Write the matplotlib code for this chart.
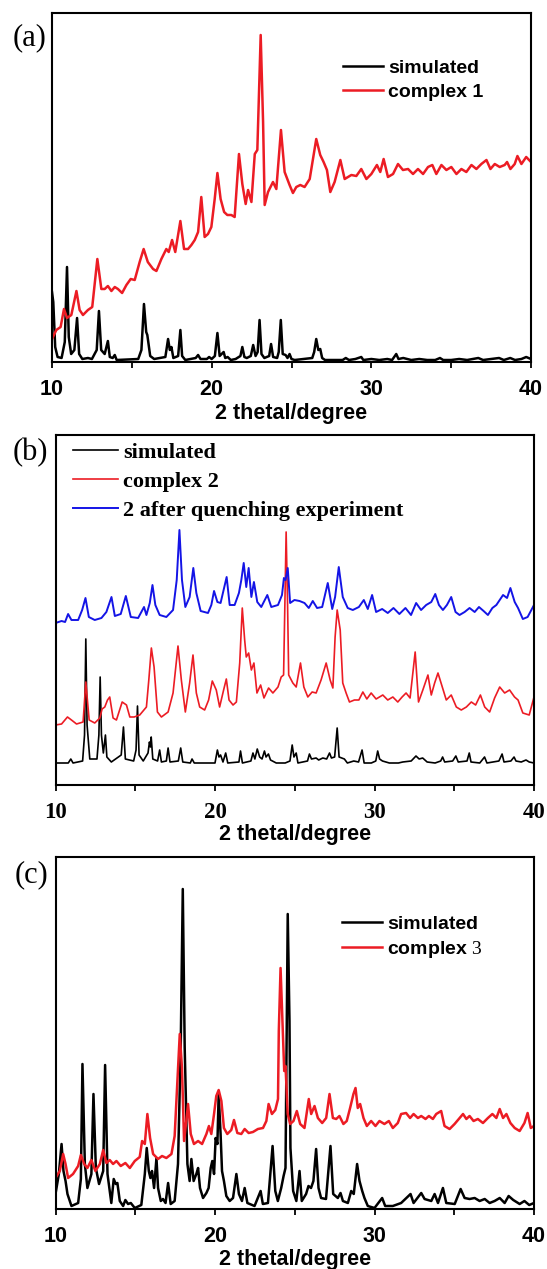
import numpy as np
import matplotlib
matplotlib.use('Agg')
import matplotlib.pyplot as plt

plt.rcParams['mathtext.fontset'] = 'custom'
plt.rcParams['mathtext.rm'] = 'Liberation Serif'

# ---- panel (a): 2 theta (deg), intensity (arb. units) ----
a_sim = [(10.0, 70), (10.08, 60), (10.2, 15), (10.35, 5), (10.6, 4), (10.8, 20), (10.94, 95), (11.05, 25),
         (11.2, 8), (11.4, 12), (11.57, 44), (11.7, 8), (11.9, 3), (12.25, 4), (12.5, 3), (12.8, 12),
         (12.94, 51), (13.08, 12), (13.3, 8), (13.5, 21), (13.62, 5), (13.8, 4), (13.93, 7), (14.05, 2),
         (15.4, 3), (15.6, 12), (15.76, 58), (15.9, 30), (15.97, 27), (16.15, 6), (16.4, 3), (17.1, 5),
         (17.27, 23), (17.38, 12), (17.48, 15), (17.6, 4), (17.9, 6), (18.04, 32), (18.15, 6), (18.35, 2),
         (19.0, 4), (19.15, 7), (19.3, 3), (19.7, 3), (19.84, 5), (20.0, 3), (20.2, 6), (20.36, 29),
         (20.5, 6), (20.75, 10), (20.85, 4), (21.0, 5), (21.2, 2), (21.5, 3), (21.8, 6), (21.92, 15),
         (22.05, 5), (22.2, 4), (22.45, 6), (22.6, 17), (22.75, 6), (22.88, 10), (23.0, 42), (23.12, 8),
         (23.3, 4), (23.6, 6), (23.72, 18), (23.85, 5), (24.1, 4), (24.2, 10), (24.33, 42), (24.45, 8),
         (24.63, 7), (24.75, 4), (24.88, 8), (25.0, 3), (25.2, 2), (26.3, 4), (26.42, 10), (26.55, 23),
         (26.68, 12), (26.8, 13), (26.92, 4), (27.1, 2), (28.2, 2), (28.4, 4), (28.6, 2), (29.0, 3),
         (29.37, 5), (29.5, 2), (30.0, 3), (30.5, 2), (31.0, 3), (31.3, 2), (31.56, 8), (31.7, 3),
         (32.0, 4), (32.5, 2), (33.0, 3), (33.5, 2), (34.0, 2), (34.3, 4), (34.5, 2), (35.0, 2),
         (35.5, 3), (36.0, 2), (36.7, 4), (37.0, 2), (37.5, 3), (38.0, 4), (38.3, 2), (38.7, 4),
         (39.0, 2), (39.4, 3), (39.7, 5), (40.0, 3)]

a_exp = [(10.0, 23), (10.27, 32), (10.54, 35), (10.75, 53), (10.94, 44), (11.21, 47), (11.53, 71), (11.73, 52),
         (11.94, 47), (12.25, 52), (12.52, 55), (12.84, 103), (13.09, 73), (13.3, 73), (13.5, 76), (13.72, 71),
         (13.93, 75), (14.13, 73), (14.39, 69), (14.66, 77), (14.93, 83), (15.18, 82), (15.49, 100), (15.74, 113),
         (16.0, 100), (16.33, 93), (16.54, 91), (16.85, 103), (17.16, 113), (17.31, 110), (17.52, 122),
         (17.72, 110), (18.04, 141), (18.27, 113), (18.52, 113), (18.73, 117), (18.94, 122), (19.15, 130),
         (19.35, 165), (19.56, 125), (19.77, 128), (19.98, 135), (20.19, 163), (20.36, 189), (20.56, 163),
         (20.78, 150), (20.98, 147), (21.23, 147), (21.44, 145), (21.71, 208), (21.92, 178), (22.13, 158),
         (22.28, 172), (22.49, 160), (22.7, 208), (22.86, 212), (23.07, 327), (23.22, 240), (23.32, 157),
         (23.53, 170), (23.84, 180), (24.05, 173), (24.34, 232), (24.57, 190), (24.88, 177), (25.09, 169),
         (25.3, 175), (25.55, 177), (25.82, 175), (26.14, 183), (26.55, 223), (26.8, 207), (27.01, 200),
         (27.22, 192), (27.43, 170), (27.7, 180), (28.06, 202), (28.33, 183), (28.75, 187), (29.06, 186),
         (29.37, 193), (29.69, 183), (30.0, 188), (30.35, 197), (30.56, 190), (30.77, 203), (31.04, 185),
         (31.36, 188), (31.67, 198), (31.98, 192), (32.3, 193), (32.61, 188), (32.92, 193), (33.24, 188),
         (33.55, 195), (33.82, 197), (34.07, 188), (34.39, 197), (34.7, 192), (35.01, 195), (35.33, 188),
         (35.64, 193), (35.95, 190), (36.27, 197), (36.58, 193), (36.89, 198), (37.21, 202), (37.46, 193),
         (37.73, 198), (38.04, 195), (38.35, 197), (38.5, 200), (38.71, 193), (38.98, 198), (39.15, 206),
         (39.4, 198), (39.7, 205), (40.0, 200)]

# ---- panel (b) ----
b_sim = [(10.0, 22), (10.8, 22), (10.96, 26), (11.1, 22), (11.7, 24), (11.82, 50), (11.9, 146), (11.98, 60),
         (12.15, 26), (12.6, 26), (12.72, 50), (12.8, 108), (12.88, 50), (13.0, 32), (13.13, 50), (13.22, 28),
         (13.5, 23), (14.12, 30), (14.26, 58), (14.38, 26), (14.9, 24), (15.05, 35), (15.14, 79), (15.24, 30),
         (15.5, 24), (15.8, 32), (15.89, 43), (15.95, 38), (16.0, 48), (16.1, 26), (16.4, 24), (16.53, 35),
         (16.64, 23), (16.95, 24), (17.06, 37), (17.18, 23), (17.7, 24), (17.85, 37), (17.98, 23), (18.45, 22),
         (18.56, 26), (18.7, 22), (20.0, 22), (20.15, 35), (20.25, 28), (20.35, 30), (20.5, 23), (20.67, 32),
         (20.8, 22), (21.5, 23), (21.6, 34), (21.72, 22), (22.25, 24), (22.38, 32), (22.5, 26), (22.65, 36),
         (22.8, 28), (22.95, 26), (23.1, 34), (23.2, 28), (23.35, 31), (23.48, 25), (23.84, 22), (24.4, 22),
         (24.7, 24), (24.84, 40), (24.95, 28), (25.09, 32), (25.2, 22), (25.8, 24), (25.92, 31), (26.05, 26),
         (26.34, 27), (26.5, 25), (26.76, 27), (27.0, 26), (27.18, 32), (27.3, 27), (27.5, 28), (27.66, 57),
         (27.78, 28), (28.11, 26), (28.3, 22), (28.7, 24), (29.0, 23), (29.22, 35), (29.35, 22), (29.8, 22),
         (30.08, 24), (30.2, 34), (30.32, 26), (30.5, 24), (30.93, 22), (31.5, 22), (31.77, 23), (32.3, 24),
         (32.6, 29), (32.8, 26), (33.02, 27), (33.3, 23), (33.8, 22), (34.15, 24), (34.27, 28), (34.4, 23),
         (34.9, 24), (35.1, 29), (35.25, 23), (35.8, 24), (35.94, 32), (36.05, 23), (36.6, 22), (36.9, 28),
         (37.05, 22), (37.8, 24), (38.0, 31), (38.12, 23), (38.55, 24), (38.75, 28), (38.87, 24), (39.2, 23),
         (39.5, 25), (39.7, 23), (40.0, 22)]

b_exp = [(10.0, 60), (10.38, 61), (10.75, 68), (11.0, 65), (11.32, 61), (11.73, 63), (11.9, 103), (12.11, 65),
         (12.46, 62), (12.78, 67), (12.92, 76), (13.09, 78), (13.26, 85), (13.4, 88), (13.61, 67), (13.82, 65),
         (14.18, 83), (14.45, 80), (14.66, 68), (14.93, 68), (15.28, 70), (15.7, 78), (15.85, 105), (16.01, 137),
         (16.18, 118), (16.39, 73), (16.64, 68), (17.06, 73), (17.37, 92), (17.68, 139), (17.89, 105),
         (18.14, 73), (18.41, 102), (18.62, 130), (18.83, 92), (19.04, 78), (19.35, 75), (19.6, 85),
         (19.83, 104), (20.08, 95), (20.29, 78), (20.54, 95), (20.71, 106), (20.88, 85), (21.13, 80),
         (21.34, 83), (21.55, 122), (21.71, 177), (21.86, 145), (21.96, 128), (22.11, 132), (22.28, 115),
         (22.44, 122), (22.63, 92), (22.86, 100), (23.07, 87), (23.36, 97), (23.63, 92), (23.95, 98),
         (24.15, 108), (24.3, 110), (24.38, 180), (24.46, 253), (24.55, 180), (24.62, 110), (24.88, 102),
         (25.09, 98), (25.36, 122), (25.57, 98), (25.82, 88), (26.09, 93), (26.34, 92), (26.65, 105),
         (26.97, 122), (27.22, 105), (27.39, 97), (27.53, 148), (27.66, 175), (27.85, 155), (28.01, 102),
         (28.22, 92), (28.43, 83), (28.74, 85), (29.02, 85), (29.27, 93), (29.52, 86), (29.79, 92), (30.1, 86),
         (30.52, 90), (30.83, 85), (31.15, 88), (31.46, 83), (31.73, 88), (31.98, 92), (32.23, 87),
         (32.55, 133), (32.76, 83), (33.03, 95), (33.35, 110), (33.56, 90), (33.77, 102), (33.98, 112),
         (34.25, 98), (34.5, 85), (34.81, 90), (35.13, 78), (35.44, 75), (35.76, 78), (36.07, 83), (36.34, 80),
         (36.64, 90), (36.91, 78), (37.22, 73), (37.53, 87), (37.85, 98), (38.16, 92), (38.47, 95), (38.78, 88),
         (39.0, 85), (39.3, 72), (39.7, 70), (40.0, 88)]

b_quench = [(10.0, 162), (10.38, 164), (10.6, 163), (10.79, 171), (11.0, 165), (11.42, 165), (11.67, 175),
            (11.88, 187), (12.09, 168), (12.46, 165), (12.88, 167), (13.19, 173), (13.51, 188), (13.72, 169),
            (14.09, 171), (14.41, 189), (14.72, 168), (15.18, 167), (15.55, 178), (15.7, 170), (15.91, 182),
            (16.08, 200), (16.26, 180), (16.53, 170), (16.95, 168), (17.37, 175), (17.6, 205), (17.77, 255),
            (17.93, 205), (18.14, 178), (18.41, 188), (18.64, 217), (18.83, 192), (19.1, 174), (19.56, 172),
            (19.77, 180), (19.94, 194), (20.15, 183), (20.35, 182), (20.54, 195), (20.73, 208), (20.92, 180),
            (21.23, 180), (21.5, 192), (21.65, 205), (21.8, 222), (21.96, 198), (22.11, 217), (22.28, 188),
            (22.44, 203), (22.65, 183), (22.9, 178), (23.28, 190), (23.53, 178), (23.95, 180), (24.2, 190),
            (24.32, 207), (24.42, 205), (24.56, 217), (24.71, 182), (24.98, 185), (25.3, 184), (25.61, 182),
            (25.88, 177), (26.13, 184), (26.4, 177), (26.72, 178), (27.07, 202), (27.35, 176), (27.53, 188),
            (27.76, 218), (28.01, 188), (28.32, 177), (28.64, 175), (29.02, 178), (29.33, 185), (29.58, 176),
            (29.85, 190), (30.1, 173), (30.48, 176), (30.83, 172), (31.19, 177), (31.56, 171), (31.94, 177),
            (32.29, 170), (32.61, 182), (32.92, 175), (33.24, 180), (33.56, 183), (33.81, 191), (34.04, 180),
            (34.29, 175), (34.54, 180), (34.81, 188), (35.08, 173), (35.33, 170), (35.65, 173), (35.96, 177),
            (36.28, 173), (36.55, 178), (36.84, 174), (37.11, 170), (37.39, 177), (37.64, 180), (37.85, 185),
            (38.06, 190), (38.31, 187), (38.52, 197), (38.79, 183), (39.0, 177), (39.3, 166), (39.6, 168),
            (40.0, 180)]

# ---- panel (c) ----
c_sim = [(10.0, 15), (10.21, 35), (10.38, 65), (10.5, 38), (10.63, 28), (10.75, 15), (11.0, 3), (11.42, 6),
         (11.59, 30), (11.69, 145), (11.84, 45), (12.0, 21), (12.25, 35), (12.38, 115), (12.53, 41), (12.73, 25),
         (12.99, 38), (13.11, 144), (13.26, 35), (13.5, 6), (13.65, 30), (13.78, 25), (13.88, 26), (14.03, 8),
         (14.24, 3), (14.38, 9), (14.55, 5), (14.72, 6), (14.97, 1), (15.38, 4), (15.6, 35), (15.72, 61),
         (15.85, 38), (15.95, 31), (16.05, 38), (16.18, 21), (16.33, 51), (16.43, 21), (16.6, 8), (16.74, 10),
         (16.9, 6), (17.06, 26), (17.22, 5), (17.47, 8), (17.68, 45), (17.85, 161), (17.98, 320), (18.1, 161),
         (18.27, 45), (18.41, 28), (18.52, 50), (18.66, 28), (18.83, 35), (18.94, 41), (19.06, 21), (19.25, 11),
         (19.46, 16), (19.6, 21), (19.73, 41), (19.83, 48), (19.94, 35), (20.04, 71), (20.15, 65), (20.23, 115),
         (20.35, 75), (20.44, 38), (20.56, 28), (20.71, 13), (20.92, 8), (21.13, 11), (21.34, 35), (21.5, 15),
         (21.69, 8), (21.86, 21), (22.03, 6), (22.48, 3), (22.86, 18), (23.0, 5), (23.32, 6), (23.61, 63),
         (23.78, 18), (23.94, 8), (24.15, 21), (24.3, 33), (24.42, 41), (24.5, 188), (24.56, 295), (24.67, 188),
         (24.73, 61), (24.9, 18), (25.1, 8), (25.3, 38), (25.44, 8), (25.71, 15), (25.86, 23), (26.02, 21),
         (26.17, 28), (26.34, 60), (26.49, 21), (26.65, 11), (26.96, 10), (27.24, 63), (27.41, 15), (27.7, 11),
         (27.87, 16), (28.02, 8), (28.33, 6), (28.54, 18), (28.7, 15), (28.91, 45), (29.06, 28), (29.23, 18),
         (29.37, 11), (29.58, 3), (30.0, 1), (30.48, 11), (30.67, 3), (31.15, 3), (31.67, 6), (32.26, 15),
         (32.45, 6), (32.93, 16), (33.14, 10), (33.56, 8), (33.77, 15), (33.98, 6), (34.29, 21), (34.5, 6),
         (35.03, 5), (35.4, 20), (35.65, 11), (35.96, 10), (36.28, 11), (36.59, 8), (36.91, 10), (37.22, 6),
         (37.53, 8), (37.85, 11), (38.16, 6), (38.41, 13), (38.7, 9), (39.1, 5), (39.4, 8), (39.7, 4), (40.0, 6)]

c_exp = [(10.0, 31), (10.27, 38), (10.48, 55), (10.63, 45), (10.79, 31), (11.1, 35), (11.42, 43), (11.59, 54),
         (11.8, 45), (12.0, 41), (12.25, 49), (12.5, 38), (12.78, 45), (12.99, 59), (13.19, 46), (13.4, 49),
         (13.61, 45), (13.82, 48), (14.09, 43), (14.38, 46), (14.66, 41), (14.97, 48), (15.28, 52), (15.43, 68),
         (15.6, 65), (15.76, 95), (15.93, 71), (16.12, 55), (16.43, 50), (16.68, 53), (16.95, 51), (17.27, 55),
         (17.47, 73), (17.64, 128), (17.79, 175), (17.93, 141), (18.06, 68), (18.2, 88), (18.31, 105),
         (18.48, 75), (18.68, 65), (18.94, 68), (19.19, 65), (19.46, 75), (19.62, 83), (19.77, 75), (19.94, 95),
         (20.08, 113), (20.23, 119), (20.4, 108), (20.56, 81), (20.77, 75), (21.02, 79), (21.19, 89), (21.4, 76),
         (21.65, 75), (21.86, 80), (22.11, 76), (22.38, 77), (22.69, 80), (23.01, 81), (23.22, 88), (23.36, 105),
         (23.57, 95), (23.78, 99), (23.95, 110), (24.0, 178), (24.11, 241), (24.25, 178), (24.34, 138),
         (24.42, 143), (24.56, 95), (24.71, 85), (24.92, 88), (25.13, 98), (25.34, 85), (25.61, 81),
         (25.88, 110), (26.03, 95), (26.24, 103), (26.45, 91), (26.72, 86), (26.97, 91), (27.18, 115),
         (27.39, 91), (27.6, 90), (27.8, 93), (28.05, 85), (28.26, 88), (28.47, 101), (28.68, 115), (28.81, 121),
         (28.95, 101), (29.1, 105), (29.31, 91), (29.52, 83), (29.79, 88), (30.06, 83), (30.31, 88), (30.62, 85),
         (30.9, 88), (31.15, 81), (31.46, 86), (31.67, 95), (31.98, 96), (32.23, 91), (32.45, 95), (32.72, 91),
         (32.93, 93), (33.2, 90), (33.41, 93), (33.66, 90), (33.87, 95), (34.18, 98), (34.39, 83), (34.71, 80),
         (35.02, 85), (35.34, 91), (35.55, 95), (35.76, 90), (35.96, 93), (36.21, 88), (36.48, 90), (36.8, 86),
         (37.11, 91), (37.39, 95), (37.64, 91), (37.85, 100), (38.06, 91), (38.27, 95), (38.52, 86), (38.79, 81),
         (39.1, 78), (39.4, 86), (39.6, 96), (39.8, 81), (40.0, 83)]

major_ticks = [10, 20, 30, 40]
tick_labels = ['10', '20', '30', '40']

RED = '#ec1c24'
BLUE = '#1414e6'
SANS = 'Liberation Sans'
SERIF = 'Liberation Serif'

fig = plt.figure(figsize=(5.47, 12.69), dpi=100)
W, H = 547.0, 1269.0


def make_axes(left, right, top, bottom, ymax, family, size, pad):
    ax = fig.add_axes([left / W, 1 - bottom / H, (right - left) / W, (bottom - top) / H])
    ax.set_xlim(10, 40)
    ax.set_ylim(0, ymax)
    ax.set_xticks(major_ticks, labels=tick_labels, fontfamily=family, fontweight='bold', fontsize=size)
    ax.set_xticks([15, 25, 35], minor=True)
    ax.set_yticks([])
    ax.tick_params(axis='x', which='both', direction='out', length=4, width=1.3, top=False)
    ax.tick_params(axis='x', which='major', pad=pad)
    for s in ax.spines.values():
        s.set_linewidth(1.5)
    return ax


def curve(data):
    arr = np.array(data, dtype=float)
    return arr[:, 0], arr[:, 1]


# (a)
ax = make_axes(52, 531, 13, 362, 349, SANS, 15.5, 8.5)
x, y = curve(a_sim)
ax.plot(x, y, color='black', lw=1.8, label='simulated')
x, y = curve(a_exp)
ax.plot(x, y, color=RED, lw=1.8, label='complex 1')
ax.set_xlabel('2 thetal/degree', fontfamily=SANS, fontweight='bold', fontsize=15.5, labelpad=2)
ax.legend(loc='upper left', bbox_to_anchor=(0.607, 0.868), frameon=False, borderpad=0, borderaxespad=0,
          handlelength=2.05, handletextpad=0.3, labelspacing=0.36,
          prop={'family': SANS, 'weight': 'bold', 'size': 14})
fig.text(13 / W, 1 - 38 / H, '(a)', fontfamily=SERIF, fontsize=22, va='center', ha='left')

# (b)
ax = make_axes(55.5, 534, 435, 785, 350, SERIF, 16.5, 8)
x, y = curve(b_sim)
ax.plot(x, y, color='black', lw=1.2, label='simulated')
x, y = curve(b_exp)
ax.plot(x, y, color=RED, lw=1.2, label='complex 2')
x, y = curve(b_quench)
ax.plot(x, y, color=BLUE, lw=1.4, label='2 after quenching experiment')
ax.set_xlabel('2 thetal/degree', fontfamily=SANS, fontweight='bold', fontsize=15.5, labelpad=1)
ax.legend(loc='upper left', bbox_to_anchor=(0.037, 0.978), frameon=False, borderpad=0, borderaxespad=0,
          handlelength=2.0, handletextpad=0.25, labelspacing=0.38,
          prop={'family': SERIF, 'weight': 'bold', 'size': 16})
fig.text(13 / W, 1 - 453 / H, '(b)', fontfamily=SERIF, fontsize=22, va='center', ha='left')

# (c)
ax = make_axes(55.5, 534, 857, 1209, 352, SANS, 15.5, 8.5)
x, y = curve(c_sim)
ax.plot(x, y, color='black', lw=1.8, label='simulated')
x, y = curve(c_exp)
ax.plot(x, y, color=RED, lw=1.8, label=r'complex $\mathrm{3}$')
ax.set_xlabel('2 thetal/degree', fontfamily=SANS, fontweight='bold', fontsize=15.5, labelpad=1)
ax.legend(loc='upper left', bbox_to_anchor=(0.598, 0.835), frameon=False, borderpad=0, borderaxespad=0,
          handlelength=2.05, handletextpad=0.3, labelspacing=0.3,
          prop={'family': SANS, 'weight': 'bold', 'size': 14})
fig.text(15 / W, 1 - 875 / H, '(c)', fontfamily=SERIF, fontsize=22, va='center', ha='left')

fig.savefig('out.png', dpi=100)
